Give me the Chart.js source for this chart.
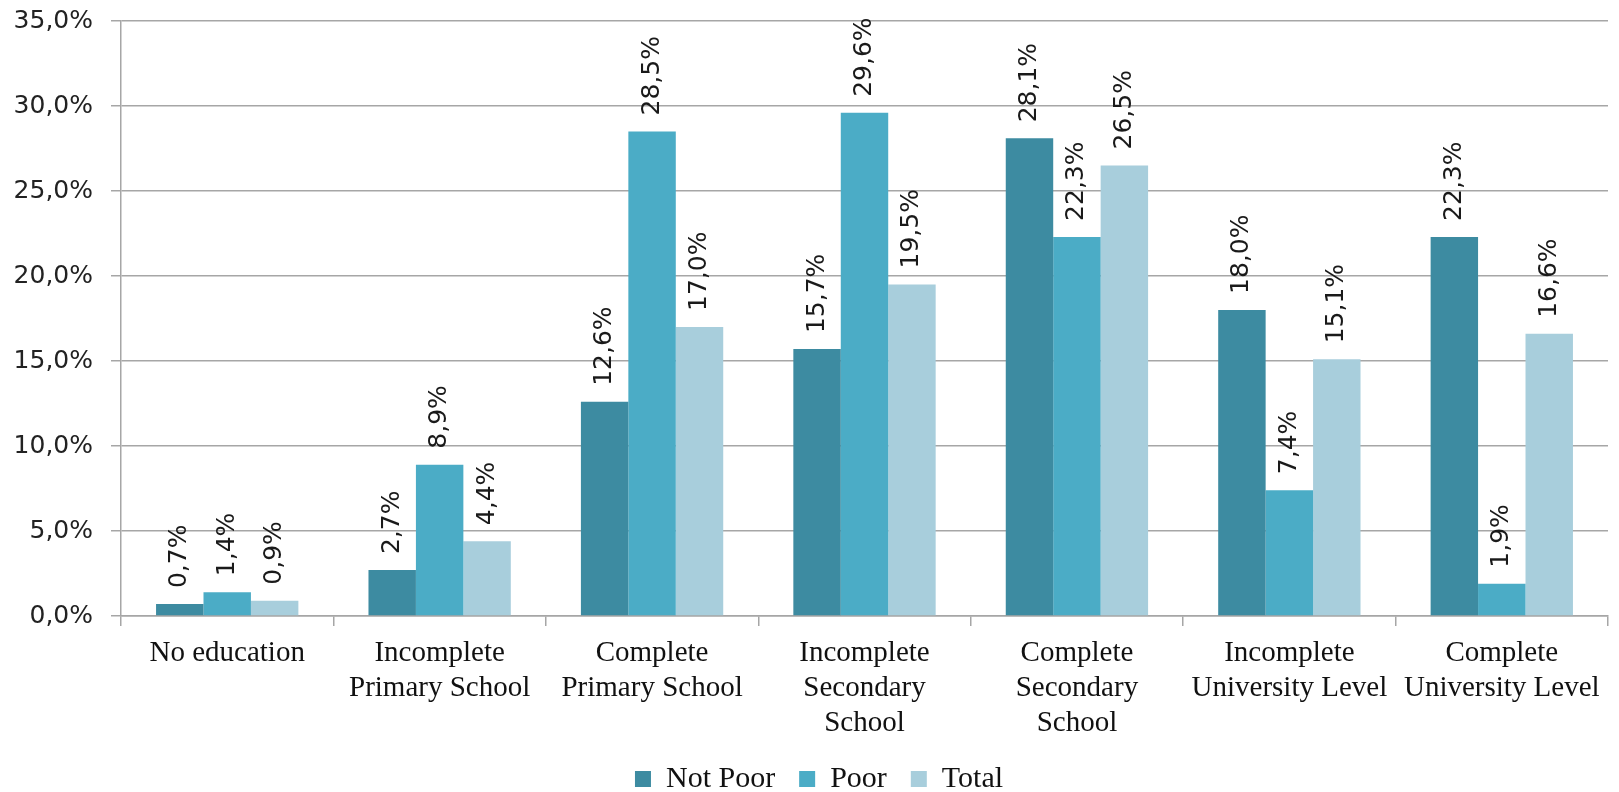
<!DOCTYPE html>
<html>
<head>
<meta charset="utf-8">
<script src="https://cdn.jsdelivr.net/npm/chart.js@4/dist/chart.umd.min.js"></script>
<style>
  html, body { margin: 0; padding: 0; background: #fff; }
  #wrap { width: 1619px; height: 792px; }
</style>
</head>
<body>
<div id="wrap"><canvas id="myChart"></canvas></div>
<script>
const categories = [
    'No education',
    ['Incomplete', 'Primary School'],
    ['Complete', 'Primary School'],
    ['Incomplete', 'Secondary', 'School'],
    ['Complete', 'Secondary', 'School'],
    ['Incomplete', 'University Level'],
    ['Complete', 'University Level']
]
const notPoor = [0.7, 2.7, 12.6, 15.7, 28.1, 18.0, 22.3]
const poor = [1.4, 8.9, 28.5, 29.6, 22.3, 7.4, 1.9]
const total = [0.9, 4.4, 17.0, 19.5, 26.5, 15.1, 16.6]
const yTicks = [0, 5, 10, 15, 20, 25, 30, 35]

const pct = v => v.toFixed(1).replace('.', ',') + '%'
const gridGray = '#a6a6a6'

// rotated value labels above each bar
const barLabels = {
    id: 'barLabels',
    afterDatasetsDraw(chart){
        const ctx = chart.ctx
        ctx.save()
        ctx.font = '25px "DejaVu Sans"'
        ctx.fillStyle = '#1a1a1a'
        ctx.textAlign = 'left'
        ctx.textBaseline = 'middle'
        chart.data.datasets.forEach((ds, i) => {
            chart.getDatasetMeta(i).data.forEach((bar, j) => {
                ctx.save()
                ctx.translate(bar.x, bar.y - 16)
                ctx.rotate(-Math.PI / 2)
                ctx.fillText(pct(ds.data[j]), 0, 0)
                ctx.restore()
            })
        })
        ctx.restore()
    }
}

// nudge the legend a bit to the right, like the original
const legendShift = {
    id: 'legendShift',
    afterLayout(chart){
        if (chart.legend) {
            chart.legend.left += 15
            chart.legend.right += 15
        }
    }
}

const info = {
    labels: categories,
    datasets: [
        { label: 'Not Poor', data: notPoor, backgroundColor: 'rgb(61,139,161)' },
        { label: 'Poor', data: poor, backgroundColor: 'rgb(75,172,198)' },
        { label: 'Total', data: total, backgroundColor: 'rgb(168,206,220)' }
    ]
}

const options = {
    responsive: true,
    maintainAspectRatio: false,
    animation: false,
    datasets: {
        bar: { categoryPercentage: 0.67, barPercentage: 1.0, borderWidth: 0 }
    },
    layout: { padding: { top: 21, right: 11, bottom: -12, left: 0 } },
    scales: {
        y: {
            min: 0,
            max: 35,
            afterBuildTicks: s => { s.ticks = yTicks.map(v => ({ value: v })) },
            afterFit: s => { s.width = 121; s.paddingTop = 0 },
            grid: { color: gridGray, lineWidth: 1.5, tickLength: 10 },
            border: { color: gridGray, width: 1.5 },
            ticks: {
                padding: 18,
                color: '#222',
                font: { family: '"DejaVu Sans"', size: 25 },
                callback: v => pct(v)
            }
        },
        x: {
            afterFit: s => { s.height = 124 },
            grid: { offset: true, drawOnChartArea: false, color: gridGray, lineWidth: 1.5, tickLength: 10 },
            border: { color: gridGray, width: 1.5 },
            ticks: {
                autoSkip: false,
                maxRotation: 0,
                padding: 10,
                color: '#111',
                font: { family: '"Liberation Serif"', size: 29, lineHeight: 1.2 }
            }
        }
    },
    plugins: {
        legend: {
            position: 'bottom',
            labels: {
                boxWidth: 16,
                boxHeight: 16,
                padding: 24,
                color: '#111',
                font: { family: '"Liberation Serif"', size: 30 }
            }
        },
        tooltip: { enabled: false }
    }
}

const myChart = new Chart(document.getElementById('myChart'), {
    type: 'bar',
    data: info,
    options,
    plugins: [barLabels, legendShift]
})
</script>
</body>
</html>
